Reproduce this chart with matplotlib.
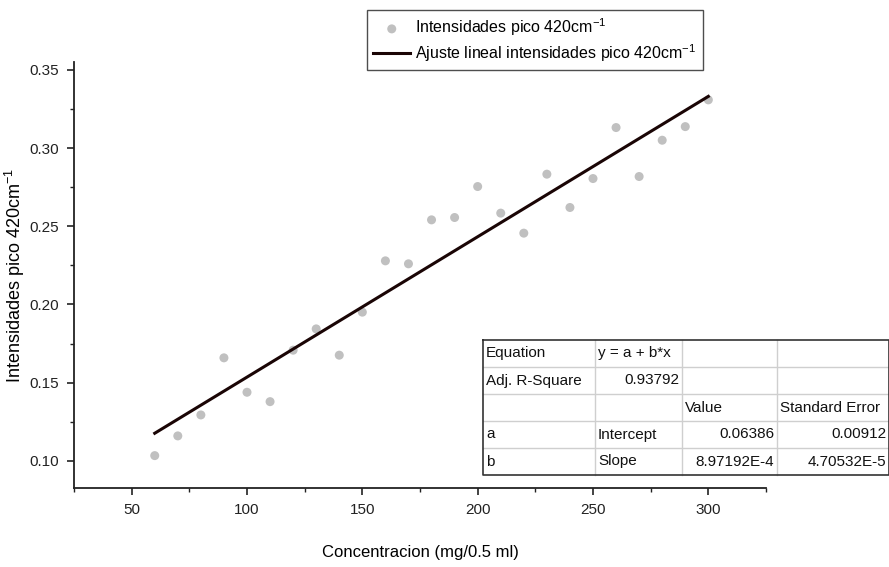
import numpy as np
import matplotlib
matplotlib.use("Agg")
import matplotlib.pyplot as plt
from matplotlib.ticker import MultipleLocator
from matplotlib.lines import Line2D
from matplotlib import font_manager

# ---- data ----
conc = [60, 70, 80, 90, 100, 110, 120, 130, 140, 150, 160, 170, 180,
        190, 200, 210, 220, 230, 240, 250, 260, 270, 280, 290, 300]
intens = [0.1034, 0.116, 0.1294, 0.1659, 0.1439, 0.1379, 0.1708, 0.1844, 0.1676, 0.1951,
          0.2279, 0.226, 0.2541, 0.2556, 0.2754, 0.2584, 0.2456, 0.2833, 0.262, 0.2805,
          0.3131, 0.2818, 0.3050, 0.3137, 0.3308]
fit_intercept = 0.06386
fit_slope = 8.97192e-4
x_ticks = [50, 100, 150, 200, 250, 300]
y_ticks = [0.10, 0.15, 0.20, 0.25, 0.30, 0.35]
table_rows = [
    ["Equation", "y = a + b*x", "", ""],
    ["Adj. R-Square", "0.93792", "", ""],
    ["", "", "Value", "Standard Error"],
    ["a", "Intercept", "0.06386", "0.00912"],
    ["b", "Slope", "8.97192E-4", "4.70532E-5"],
]
table_align = [
    ["left", "left", "left", "left"],
    ["left", "right", "left", "left"],
    ["left", "left", "left", "left"],
    ["left", "left", "right", "right"],
    ["left", "left", "right", "right"],
]

names = {f.name for f in font_manager.fontManager.ttflist}
fam = "Liberation Sans Narrow" if "Liberation Sans Narrow" in names else "Liberation Sans"
plt.rcParams['font.family'] = [fam, 'DejaVu Sans']
plt.rcParams['mathtext.fontset'] = 'custom'
plt.rcParams['mathtext.rm'] = fam
plt.rcParams['mathtext.it'] = fam

W, H = 889, 567
fig = plt.figure(figsize=(W / 100, H / 100), dpi=100)
ax_l, ax_r, ax_t, ax_b = 74, 766, 62, 488
ax = fig.add_axes([ax_l / W, 1 - ax_b / H, (ax_r - ax_l) / W, (ax_b - ax_t) / H])

ax.scatter(conc, intens, s=42, color='#c0c0c0', edgecolors='none', zorder=2,
           label='Intensidades pico 420cm$^{-1}$')
xf = np.array([conc[0], conc[-1]])
ax.plot(xf, fit_intercept + fit_slope * xf, color='#1a0505', lw=2.2, zorder=3,
        label='Ajuste lineal intensidades pico 420cm$^{-1}$')

ax.set_xlim(25, 325)
ax.set_ylim(0.0827, 0.355)
ax.set_xticks(x_ticks)
ax.set_yticks(y_ticks)
ax.set_yticklabels([f"{v:.2f}" for v in y_ticks])
ax.xaxis.set_minor_locator(MultipleLocator(25))
ax.yaxis.set_minor_locator(MultipleLocator(0.025))
for s in ['top', 'right']:
    ax.spines[s].set_visible(False)
for s in ['left', 'bottom']:
    ax.spines[s].set_linewidth(1.3)
    ax.spines[s].set_color('#222222')
ax.tick_params(which='major', direction='out', length=5, width=1.2, labelsize=11, pad=6, colors='#222222')
ax.tick_params(which='minor', direction='out', length=3, width=1.0, colors='#222222')
ax.set_xlabel('Concentracion (mg/0.5 ml)', fontsize=12, labelpad=20)
ax.set_ylabel('Intensidades pico 420cm$^{-1}$', fontsize=13)
ax.yaxis.set_label_coords(-0.068, 0.5)

# legend (above the axes)
leg = fig.legend(loc='upper left', bbox_to_anchor=(359 / W, 1 - 2 / H), frameon=True,
                 fancybox=False, fontsize=11.5, handlelength=2.3, borderpad=0.4,
                 labelspacing=0.25, handletextpad=0.3, markerscale=1.0)
leg.get_frame().set_edgecolor('#222222')
leg.get_frame().set_linewidth(1.0)

# fit table
col_x = [483, 595, 682, 777, 889]
row_y = [340, 367, 394, 421, 448, 475]
tf = fig.transFigure
def fx(px): return px / W
def fy(py): return 1 - py / H
for x in col_x[1:-1]:
    fig.add_artist(Line2D([fx(x), fx(x)], [fy(row_y[0]), fy(row_y[-1])], transform=tf,
                          color='#cfcfcf', lw=1.0))
for y in row_y[1:-1]:
    fig.add_artist(Line2D([fx(col_x[0]), fx(col_x[-1])], [fy(y), fy(y)], transform=tf,
                          color='#cfcfcf', lw=1.0))
fig.add_artist(Line2D([fx(col_x[0]), fx(col_x[-1]), fx(col_x[-1]), fx(col_x[0]), fx(col_x[0])],
                      [fy(row_y[0]), fy(row_y[0]), fy(row_y[-1]), fy(row_y[-1]), fy(row_y[0])],
                      transform=tf, color='#333333', lw=1.2))
for r, row in enumerate(table_rows):
    yc = (row_y[r] + row_y[r + 1]) / 2
    for c, txt in enumerate(row):
        if not txt:
            continue
        al = table_align[r][c]
        xp = col_x[c] + 3 if al == 'left' else col_x[c + 1] - 3
        fig.text(fx(xp), fy(yc), txt, ha=al, va='center', fontsize=11, color='#111111')

fig.savefig('out.png', dpi=100)
